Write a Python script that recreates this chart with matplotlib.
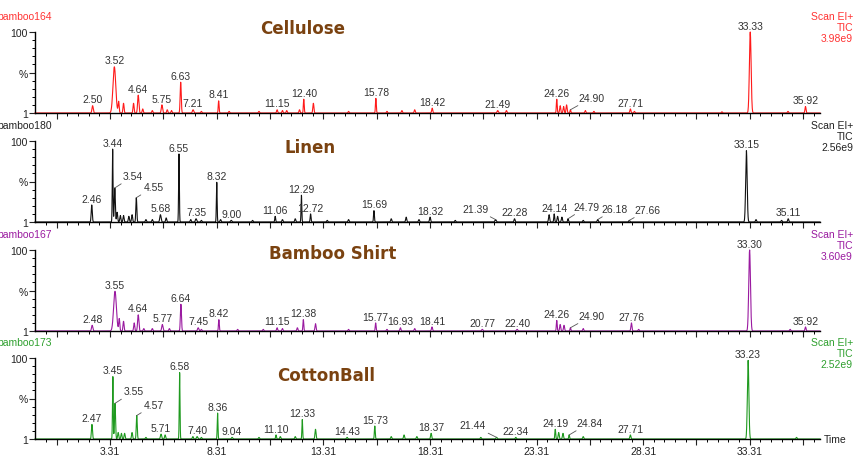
import numpy as np
import matplotlib
matplotlib.use('Agg')
import matplotlib.pyplot as plt

# sample names / info
samples = ['bamboo164', 'bamboo180', 'bamboo167', 'bamboo173']
titles = ['Cellulose', 'Linen', 'Bamboo Shirt', 'CottonBall']
tic_scale = ['3.98e9', '2.56e9', '3.60e9', '2.52e9']

# labelled peaks: retention time (min), height (%), width (min)
cell_rt = [2.50, 3.52, 4.64, 5.75, 6.63, 7.21, 8.41, 11.15, 12.40, 15.78, 18.42, 21.49, 24.26, 24.90, 27.71, 33.33, 35.92]
cell_h = [9, 57, 22, 10, 38, 4, 15, 4, 17, 18, 6, 3, 17, 4, 5, 100, 8]
cell_w = [0.06, 0.13, 0.06, 0.06, 0.05, 0.06, 0.04, 0.05, 0.04, 0.04, 0.05, 0.06, 0.04, 0.04, 0.05, 0.08, 0.05]
# small unlabelled peaks: retention time, height
cell_minor_rt = [3.72, 3.95, 4.42, 4.85, 5.30, 6.00, 6.20, 7.60, 8.90, 10.30, 11.40, 11.60, 12.20, 12.85, 14.50, 16.30, 17.00, 17.60, 21.90, 24.42, 24.58, 24.72, 25.60, 26.00, 27.90, 32.00, 35.10]
cell_minor_h = [14, 12, 12, 5, 3, 4, 3, 2, 2, 2, 3, 3, 4, 12, 2, 2, 3, 4, 3, 9, 8, 10, 3, 2, 2, 1.5, 2]

linen_rt = [2.46, 3.44, 3.54, 4.55, 5.68, 6.55, 7.35, 8.32, 9.00, 11.06, 12.29, 12.72, 15.69, 18.32, 21.39, 22.28, 24.14, 24.79, 26.18, 27.66, 33.15, 35.11]
linen_h = [21, 90, 42, 30, 9, 84, 4, 49, 2, 7, 33, 10, 14, 6, 3, 4, 10, 4, 3, 2, 88, 4]
linen_w = [0.05, 0.035, 0.05, 0.045, 0.06, 0.035, 0.06, 0.035, 0.06, 0.04, 0.035, 0.04, 0.04, 0.05, 0.06, 0.05, 0.04, 0.04, 0.05, 0.05, 0.07, 0.05]
linen_minor_rt = [3.65, 3.80, 3.95, 4.20, 4.35, 5.00, 5.30, 5.95, 7.10, 7.60, 8.50, 10.00, 11.40, 12.00, 13.50, 14.50, 16.50, 17.20, 17.80, 19.50, 23.90, 24.30, 24.50, 25.50, 33.60, 34.80]
linen_minor_h = [12, 8, 8, 7, 9, 3, 3, 5, 3, 2, 3, 2, 3, 4, 2, 3, 4, 6, 3, 2, 9, 7, 6, 2, 3, 2]

bamboo_rt = [2.48, 3.55, 4.64, 5.77, 6.64, 7.45, 8.42, 11.15, 12.38, 15.77, 16.93, 18.41, 20.77, 22.40, 24.26, 24.90, 27.76, 33.30, 35.92]
bamboo_h = [7, 49, 20, 8, 33, 4, 14, 4, 14, 10, 4, 5, 2, 2, 13, 4, 10, 100, 5]
bamboo_w = [0.06, 0.13, 0.06, 0.06, 0.05, 0.06, 0.04, 0.05, 0.04, 0.04, 0.05, 0.05, 0.06, 0.06, 0.04, 0.04, 0.05, 0.08, 0.05]
bamboo_minor_rt = [3.75, 3.95, 4.45, 4.90, 5.30, 6.10, 7.60, 9.30, 10.50, 11.40, 12.10, 12.95, 14.50, 16.30, 17.60, 24.42, 24.60, 25.50, 28.10, 35.20]
bamboo_minor_h = [15, 12, 10, 3, 3, 3, 2, 2, 2, 3, 4, 9, 2, 2, 3, 8, 7, 3, 2, 2]

cotton_rt = [2.47, 3.45, 3.55, 4.57, 5.71, 6.58, 7.40, 8.36, 9.04, 11.10, 12.33, 14.43, 15.73, 18.37, 21.44, 22.34, 24.19, 24.84, 27.71, 33.23]
cotton_h = [18, 77, 44, 29, 6, 82, 3, 32, 2, 5, 24, 2, 16, 7, 2, 2, 12, 5, 5, 97]
cotton_w = [0.05, 0.035, 0.05, 0.045, 0.06, 0.035, 0.06, 0.035, 0.06, 0.04, 0.035, 0.06, 0.04, 0.05, 0.06, 0.05, 0.04, 0.04, 0.05, 0.07]
cotton_minor_rt = [3.70, 3.85, 4.00, 4.35, 5.00, 5.90, 7.20, 7.60, 10.30, 11.30, 12.00, 12.95, 16.50, 17.10, 17.70, 20.70, 24.35, 24.55, 25.50, 35.50]
cotton_minor_h = [8, 7, 7, 8, 2, 5, 3, 2, 2, 3, 3, 12, 3, 5, 3, 2, 8, 7, 3, 2]

# x tick labels on the bottom panel
time_labels = ['3.31', '8.31', '13.31', '18.31', '23.31', '28.31', '33.31']

colors = ['#ff1a1a', '#111111', '#9a1aa0', '#1f9a1f']
info_colors = ['#ff3333', '#222222', '#9a1aa0', '#2ea02e']

# labels drawn with a leader line: offset in points
leader = {
    (1, '3.54'): (6, 4), (1, '4.55'): (5, 3), (1, '24.79'): (4, 4), (1, '21.39'): (-5, 3),
    (1, '26.18'): (3, 3), (1, '27.66'): (4, 3),
    (0, '24.90'): (6, 4), (2, '24.90'): (6, 4),
    (3, '3.55'): (6, 4), (3, '4.57'): (5, 3), (3, '21.44'): (-8, 4), (3, '24.84'): (5, 4),
}

peak_sets = [
    (cell_rt, cell_h, cell_w, cell_minor_rt, cell_minor_h),
    (linen_rt, linen_h, linen_w, linen_minor_rt, linen_minor_h),
    (bamboo_rt, bamboo_h, bamboo_w, bamboo_minor_rt, bamboo_minor_h),
    (cotton_rt, cotton_h, cotton_w, cotton_minor_rt, cotton_minor_h),
]

W, H = 856, 456
fig = plt.figure(figsize=(W / 100, H / 100), dpi=100)
plt.rcParams['font.family'] = ['Liberation Sans', 'DejaVu Sans']

x0, x1 = 35, 820
tops = [33, 142, 251, 359]
ph = 81
t = np.arange(-0.2, 36.6, 0.005)
major = 0.81 + 2.5 * np.arange(15)

for i in range(4):
    rt, hh, ww, mrt, mh = peak_sets[i]
    top = tops[i]
    ax = fig.add_axes([x0 / W, 1 - (top + ph) / H, (x1 - x0) / W, ph / H])
    y = np.zeros_like(t)
    for r, h, w in zip(rt, hh, ww):
        s = w / 2.0
        y += h * np.exp(-0.5 * ((t - r) / s) ** 2)
    for r, h in zip(mrt, mh):
        y += h * np.exp(-0.5 * ((t - r) / 0.025) ** 2)
    ax.plot(t, y, color=colors[i], lw=0.8, clip_on=False)
    ax.set_xlim(-0.2, 36.6)
    ax.set_ylim(0, 100)
    for sp in ['top', 'right']:
        ax.spines[sp].set_visible(False)
    ax.spines['left'].set_linewidth(1.0)
    ax.spines['bottom'].set_linewidth(1.0)
    ax.set_yticks([0, 50, 100])
    ax.set_yticklabels(['1', '%', '100'])
    ax.set_yticks(np.arange(10, 100, 10), minor=True)
    ax.set_xticks(major)
    ax.set_xticks(np.arange(0.31, 36.6, 0.5), minor=True)
    ax.tick_params(axis='both', which='major', length=4, width=0.8, labelsize=7.5, colors='#222222', pad=1)
    ax.tick_params(axis='both', which='minor', length=2.5, width=0.7)
    if i == 3:
        labs = [''] * len(major)
        for k, lab in enumerate(time_labels):
            labs[1 + 2 * k] = lab
        ax.set_xticklabels(labs)
        ax.text(1.005, 0.0, 'Time', transform=ax.transAxes, fontsize=7.5, va='center', ha='left', color='#222222')
    else:
        ax.set_xticklabels([])

    # peak labels
    for r, h in zip(rt, hh):
        lab = '%.2f' % r
        key = (i, lab)
        if key in leader:
            dx, dy = leader[key]
            ax.annotate(lab, xy=(r, h), xytext=(dx, dy + 1), textcoords='offset points',
                        ha='left' if dx > 0 else 'right', va='bottom',
                        fontsize=7.5, color='#333333', annotation_clip=False,
                        arrowprops=dict(arrowstyle='-', color='#555555', lw=0.6, shrinkA=0, shrinkB=0))
        else:
            ax.annotate(lab, xy=(r, h), xytext=(0, 1), textcoords='offset points',
                        ha='center', va='bottom', fontsize=7.5, color='#333333', annotation_clip=False)

    # sample name and scan info
    fig.text(-3 / W, 1 - (top - 16) / H, samples[i], fontsize=7.5, color=info_colors[i], ha='left', va='center')
    fig.text(853 / W, 1 - (top - 16) / H, 'Scan EI+', fontsize=7.5, color=info_colors[i], ha='right', va='center')
    fig.text(853 / W, 1 - (top - 5) / H, 'TIC', fontsize=7.5, color=info_colors[i], ha='right', va='center')
    fig.text(853 / W, 1 - (top + 6) / H, tic_scale[i], fontsize=7.5, color=info_colors[i], ha='right', va='center')

title_pos = [(303, 29), (310, 148), (333, 254), (326, 376)]
for name, (tx, ty) in zip(titles, title_pos):
    fig.text(tx / W, 1 - ty / H, name, fontsize=12, fontweight='bold', color='#7a4210',
             ha='center', va='center', family=['DejaVu Sans'])

fig.savefig('out.png', dpi=100)
